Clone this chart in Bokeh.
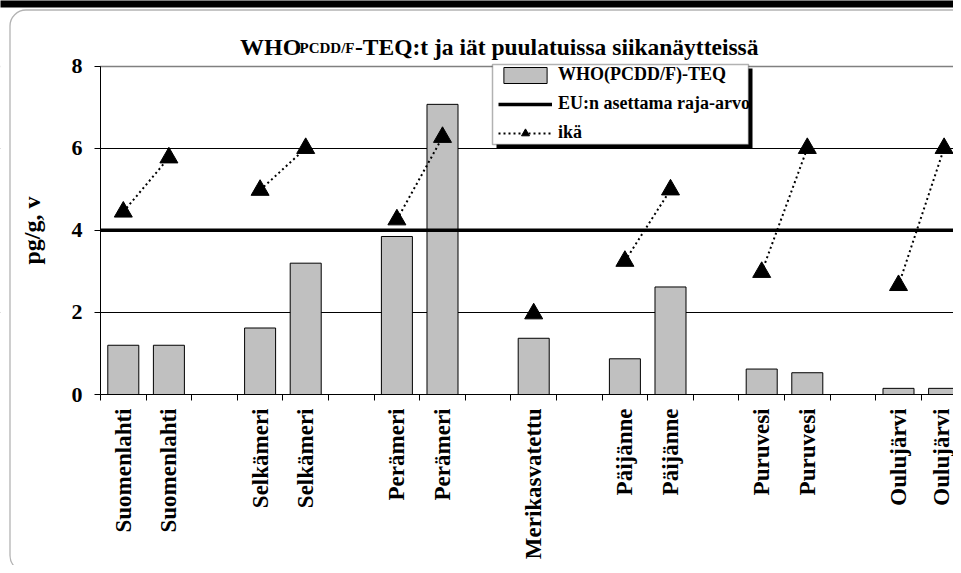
import math
from bokeh.plotting import figure
from bokeh.models import (Range1d, FixedTicker, Label, BoxAnnotation,
                          Legend, LegendItem, Grid)
from bokeh.embed import file_html
from bokeh.resources import INLINE

nan = float("nan")

# ---- data -------------------------------------------------------------
categories = ["Suomenlahti", "Suomenlahti", "", "Selkämeri", "Selkämeri", "",
              "Perämeri", "Perämeri", "", "Merikasvatettu", "", "Päijänne",
              "Päijänne", "", "Puruvesi", "Puruvesi", "", "Oulujärvi", "Oulujärvi"]
teq = [1.20, 1.20, nan, 1.62, 3.20, nan, 3.85, 7.07, nan, 1.37, nan,
       0.87, 2.62, nan, 0.62, 0.53, nan, 0.15, 0.15]
age = [4.45, 5.77, nan, 4.98, 6.00, nan, 4.26, 6.27, nan, 1.97, nan,
       3.25, 4.99, nan, 2.98, 6.00, nan, 2.66, 6.00]
eu_limit = 4.0
y_ticks = [0, 2, 4, 6, 8]
y_max = 8

series_names = ["WHO(PCDD/F)-TEQ", "EU:n asettama raja-arvo", "ikä"]
title_main, title_sub, title_rest = "WHO", "PCDD/F", "-TEQ:t ja iät puulatuissa siikanäytteissä"
y_label = "pg/g, v"

n = len(categories)
slots = list(range(n))
label_slots = [i for i, c in enumerate(categories) if c]
bar_x = [i for i in slots if not math.isnan(teq[i])]
bar_top = [teq[i] for i in bar_x]
age_x = [i for i in slots if not math.isnan(age[i])]
age_y = [age[i] for i in age_x]

# ---- layout constants (pixels) ---------------------------------------
W, H = 953, 565
AX_LEFT = 100        # y axis x position
AX_BOTTOM = 394      # x axis y position (from top)
SLOT_PX = 45.6
UNIT_PX = 41.04
FONT = "Liberation Serif"

x0 = -0.5 - AX_LEFT / SLOT_PX
y0 = -(H - AX_BOTTOM) / UNIT_PX

p = figure(width=W, height=H, output_backend="svg", toolbar_location=None,
           title=None,
           x_range=Range1d(x0, x0 + W / SLOT_PX), y_range=Range1d(y0, y0 + H / UNIT_PX),
           min_border=0)
p.outline_line_color = None
p.background_fill_color = "white"
p.border_fill_color = "white"

# grid
p.xgrid.grid_line_color = None
p.ygrid.ticker = FixedTicker(ticks=[2, 6])
p.ygrid.grid_line_color = "black"
p.ygrid.grid_line_width = 1
top_grid = Grid(dimension=1, ticker=FixedTicker(ticks=[y_max]),
                grid_line_color="#808080", grid_line_width=1.5)
p.add_layout(top_grid)
# keep grid lines right of the value axis
p.add_layout(BoxAnnotation(left=-100, right=AX_LEFT - 0.5, bottom=-50, top=H + 50,
                           left_units="screen", right_units="screen",
                           top_units="screen", bottom_units="screen",
                           fill_color="white", fill_alpha=1, line_color=None,
                           level="underlay"))

# bars
bars = p.vbar(x=bar_x, top=bar_top, width=0.68, fill_color="#C0C0C0",
              line_color="black", line_width=1)

# EU limit line across the category axis
eu_line = p.line([-0.5, n - 0.5], [eu_limit, eu_limit], line_color="black",
                 line_width=3.5)

# age
age_line = p.line(slots, age, line_color="black", line_width=2, line_dash="2 3")
age_pts = p.scatter(age_x, age_y, marker="triangle", size=18, fill_color="black",
                    line_color="black")

# x axis
xa = p.xaxis[0]
xa.fixed_location = 0
xa.bounds = (-0.5, n - 0.5)
xa.ticker = FixedTicker(ticks=label_slots,
                        minor_ticks=[i - 0.5 for i in slots] + [n - 0.5])
xa.major_label_overrides = {i: categories[i] for i in label_slots}
xa.major_label_orientation = math.pi / 2
xa.major_tick_line_color = None
xa.minor_tick_line_color = "black"
xa.minor_tick_out = 6
xa.minor_tick_in = 0
xa.axis_line_color = "black"
xa.major_label_standoff = 8
xa.major_label_text_font = FONT
xa.major_label_text_font_style = "bold"
xa.major_label_text_font_size = "23px"
xa.major_label_text_color = "black"

# y axis
ya = p.yaxis[0]
ya.fixed_location = -0.5
ya.bounds = (0, y_max)
ya.ticker = FixedTicker(ticks=y_ticks)
ya.major_tick_out = 6
ya.major_tick_in = 0
ya.minor_tick_line_color = None
ya.axis_line_color = "black"
ya.major_label_standoff = 12
ya.major_label_text_font = FONT
ya.major_label_text_font_style = "bold"
ya.major_label_text_font_size = "22px"
ya.major_label_text_color = "black"
ya.axis_label = y_label
ya.axis_label_text_font = FONT
ya.axis_label_text_font_style = "bold"
ya.axis_label_text_font_size = "24px"
ya.axis_label_text_color = "black"
ya.axis_label_standoff = 24

def sbox(left, right, top, bottom, **kw):
    """Box in screen pixels measured from the top-left of the canvas."""
    return BoxAnnotation(left=left, right=right, top=H - top, bottom=H - bottom,
                         left_units="screen", right_units="screen",
                         top_units="screen", bottom_units="screen", **kw)

# legend box with shadow
p.add_layout(sbox(496, 752, 68, 148, fill_color="black", fill_alpha=1, line_color=None))
p.add_layout(sbox(492, 748, 64, 144, fill_color="white", fill_alpha=1,
                  line_color="black", line_width=1.5))
legend = Legend(items=[LegendItem(label=series_names[0], renderers=[bars]),
                       LegendItem(label=series_names[1], renderers=[eu_line]),
                       LegendItem(label=series_names[2], renderers=[age_line, age_pts])],
                location=(498, H - 143), orientation="vertical",
                border_line_color=None, background_fill_alpha=0,
                padding=0, margin=0, spacing=8, glyph_width=54, glyph_height=20,
                label_height=20, label_standoff=6, label_text_font=FONT,
                label_text_font_style="bold", label_text_font_size="18px",
                label_text_color="black")
p.add_layout(legend)

# title with subscript
common = dict(x_units="screen", y_units="screen", text_font=FONT,
              text_font_style="bold", text_color="black",
              text_baseline="alphabetic")
p.add_layout(Label(x=239.5, y=H - 46.5, text=title_main, text_font_size="24px", **common))
p.add_layout(Label(x=299, y=H - 47, text=title_sub, text_font_size="15px", **common))
p.add_layout(Label(x=354.5, y=H - 46.5, text=title_rest, text_font_size="23.5px", **common))

# page decoration: black band on top and rounded chart border
p.add_layout(sbox(-10, W + 10, -10, 7, fill_color="black", fill_alpha=1, line_color=None))
p.add_layout(sbox(9.5, W + 40, 9.5, H + 6, fill_alpha=0, line_color="black",
                  line_width=1.3, border_radius=16))

open("out.html", "w").write(file_html(p, INLINE))
